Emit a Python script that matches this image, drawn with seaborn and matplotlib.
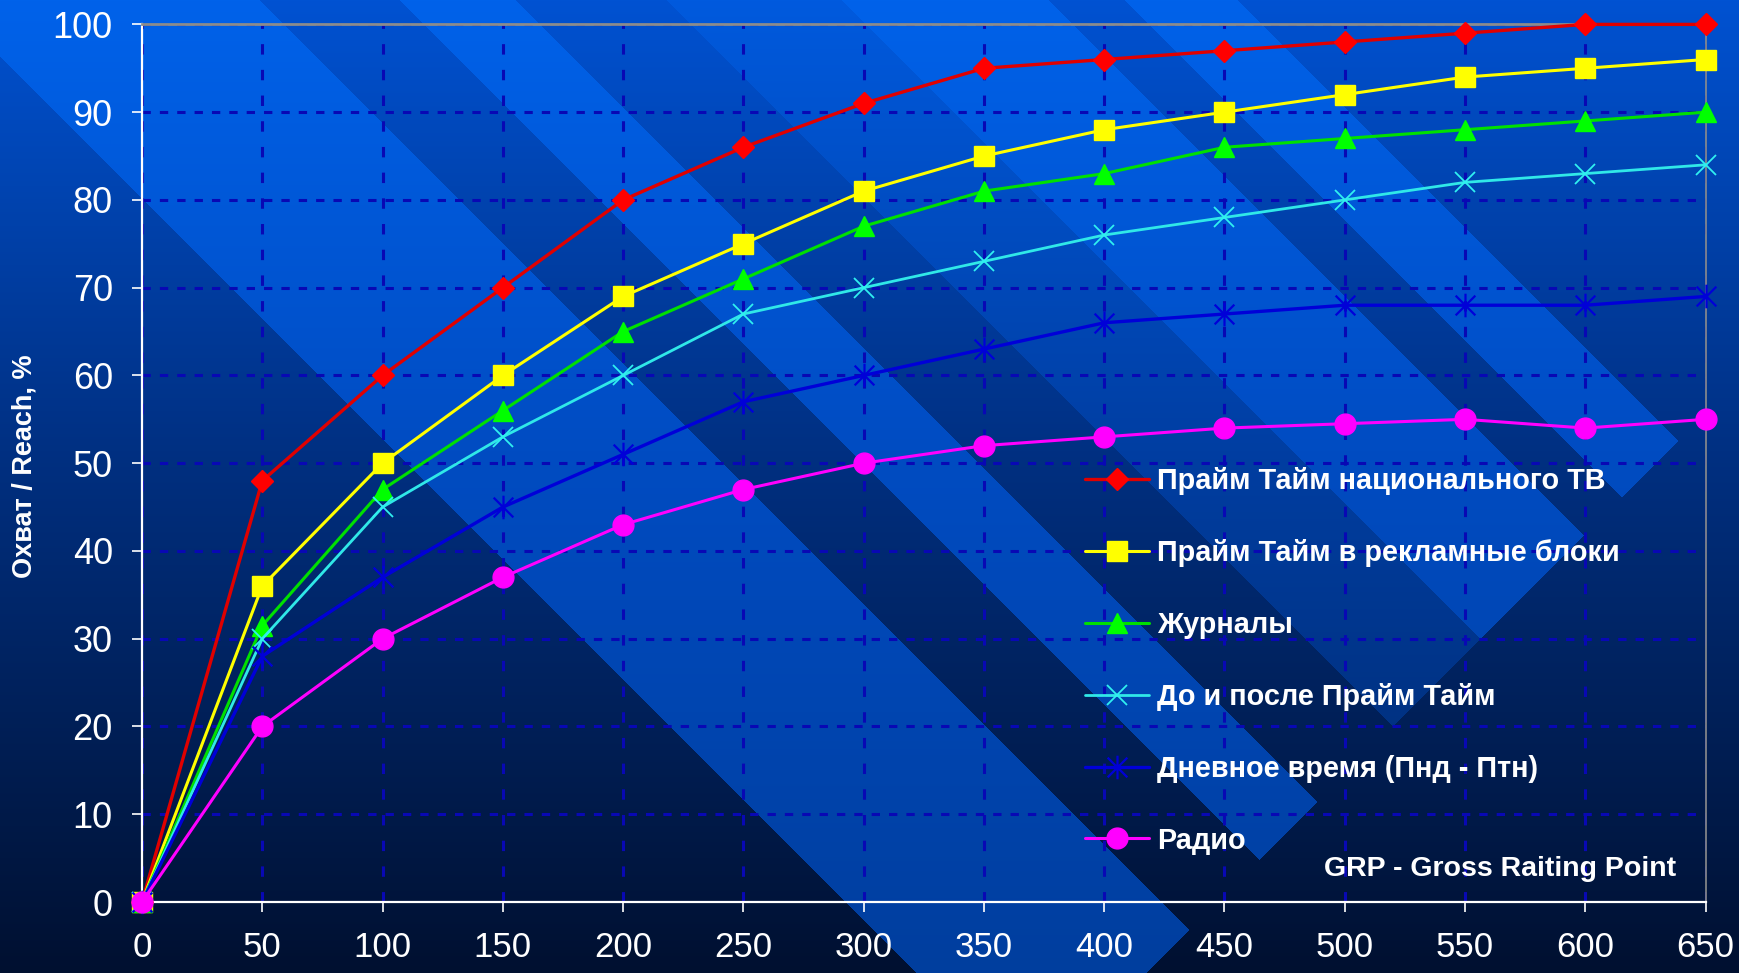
import numpy as np
import pandas as pd
import matplotlib
matplotlib.use("Agg")
import matplotlib.pyplot as plt
import seaborn as sns
from matplotlib.path import Path

# ---------------- data ----------------
grp = [0, 50, 100, 150, 200, 250, 300, 350, 400, 450, 500, 550, 600, 650]
prime_national_tv = [0, 48, 60, 70, 80, 86, 91, 95, 96, 97, 98, 99, 100, 100]
prime_ad_blocks = [0, 36, 50, 60, 69, 75, 81, 85, 88, 90, 92, 94, 95, 96]
magazines = [0, 31.5, 47, 56, 65, 71, 77, 81, 83, 86, 87, 88, 89, 90]
around_prime = [0, 30, 45, 53, 60, 67, 70, 73, 76, 78, 80, 82, 83, 84]
daytime = [0, 28, 37, 45, 51, 57, 60, 63, 66, 67, 68, 68, 68, 69]
radio = [0, 20, 30, 37, 43, 47, 50, 52, 53, 54, 54.5, 55, 54, 55]

series_labels = [
    "Прайм Тайм национального ТВ",
    "Прайм Тайм в рекламные блоки",
    "Журналы",
    "До и после Прайм Тайм",
    "Дневное время (Пнд - Птн)",
    "Радио",
]
x_ticks = list(range(0, 651, 50))
y_ticks = list(range(0, 101, 10))
y_label = "Охват / Reach, %"
note_text = "GRP - Gross Raiting Point"

# ---------------- style ----------------
sns.set_theme(style="white")
plt.rcParams["font.family"] = ["Liberation Sans", "DejaVu Sans"]
plt.rcParams["lines.scale_dashes"] = False

W, H = 1740, 973
fig = plt.figure(figsize=(W / 100, H / 100), dpi=100)

# background: vertical gradient with diagonal stripes (decoration)
def gradient(stops):
    ys = [s[0] for s in stops]
    cols = np.array([s[1] for s in stops], dtype=float) / 255.0
    rows = np.arange(H)
    return np.stack([np.interp(rows, ys, cols[:, k]) for k in range(3)], axis=1)

base = gradient([(0, (0x00, 0x52, 0xd2)), (450, (0x00, 0x30, 0x82)), (972, (0x00, 0x10, 0x30))])
bright = gradient([(0, (0x00, 0x62, 0xea)), (450, (0x00, 0x4c, 0xc2)), (972, (0x00, 0x3e, 0x9e))])
mid = (base + bright) / 2

yy, xx = np.mgrid[0:H, 0:W]
cc = xx - yy
dd = xx + yy
img = np.repeat(base[:, None, :], W, axis=1)
stripes = [(-56, 259, bright), (400, 515, bright), (667, 842, mid),
           (842, 1048, bright), (1125, 1237, bright)]
inside = dd <= 2118
for lo, hi, col in stripes:
    m = inside & (cc >= lo) & (cc <= hi)
    full = np.repeat(col[:, None, :], W, axis=1)
    img[m] = full[m]

bg = fig.add_axes([0, 0, 1, 1])
bg.imshow(img, aspect="auto", extent=(0, W, H, 0), interpolation="nearest")
bg.axis("off")

ax = fig.add_axes([142 / W, 1 - 902 / H, (1705.6 - 142) / W, (902 - 24.4) / H])
ax.set_facecolor("none")

star = Path([(-1, -1), (1, 1), (-1, 1), (1, -1), (0, -1.2), (0, 1.2)],
            [Path.MOVETO, Path.LINETO, Path.MOVETO, Path.LINETO, Path.MOVETO, Path.LINETO])

all_values = [prime_national_tv, prime_ad_blocks, magazines, around_prime, daytime, radio]
styles = [
    dict(color="#e00000", marker="D", markersize=11, markerfacecolor="#ff0000",
         markeredgecolor="#ff0000", markeredgewidth=1, linewidth=2.4),
    dict(color="#ffff00", marker="s", markersize=15, markerfacecolor="#ffff00",
         markeredgecolor="#ffff00", markeredgewidth=1, linewidth=2.2),
    dict(color="#00e000", marker="^", markersize=15, markerfacecolor="#00ff00",
         markeredgecolor="#00ff00", markeredgewidth=1, linewidth=2.2),
    dict(color="#30e8e8", marker="x", markersize=15, markerfacecolor="none",
         markeredgecolor="#30f0f0", markeredgewidth=1.3, linewidth=2.0),
    dict(color="#0000d8", marker=star, markersize=17, markerfacecolor="none",
         markeredgecolor="#0000d8", markeredgewidth=1.6, linewidth=2.4),
    dict(color="#ff00ff", marker="o", markersize=15, markerfacecolor="#ff00ff",
         markeredgecolor="#ff00ff", markeredgewidth=1, linewidth=2.2),
]

handles = []
for name, vals, st in zip(series_labels, all_values, styles):
    df = pd.DataFrame({"GRP": grp, "Reach": vals})
    sns.lineplot(data=df, x="GRP", y="Reach", ax=ax, label=name, legend=False,
                 clip_on=False, zorder=5, **st)
    handles.append(ax.get_lines()[-1])

ax.set_xlim(0, 650)
ax.set_ylim(0, 100)
ax.set_xticks(x_ticks)
ax.set_yticks(y_ticks)
ax.set_xlabel("")

grid_color = "#0808b4"
ax.set_axisbelow(True)
ax.xaxis.grid(True, color=grid_color, linewidth=2.2, linestyle=(0, (7.5, 11)))
ax.yaxis.grid(True, color=grid_color, linewidth=2.2, linestyle=(0, (6, 6.5)))

for side in ["left", "bottom"]:
    ax.spines[side].set_color("white")
    ax.spines[side].set_linewidth(1.6)
ax.spines["top"].set_color("#8c8c8c")
ax.spines["top"].set_linewidth(2.0)
ax.spines["right"].set_color("#8c8c8c")
ax.spines["right"].set_linewidth(1.2)
for s in ax.spines.values():
    s.set_zorder(3)

ax.tick_params(axis="both", which="major", bottom=True, left=True, colors="white",
               direction="out", length=7, width=1.2, labelsize=26)
ax.tick_params(axis="x", pad=14, labelsize=25)
ax.tick_params(axis="y", pad=14)

ax.set_ylabel(y_label, color="white", fontsize=19.5, fontweight="bold", va="center")
ax.yaxis.set_label_coords((24 - 142) / 1563.6, (902 - 466) / 877.6)

leg = ax.legend(handles, series_labels, loc="upper left",
                bbox_to_anchor=(1085 / W, 1 - 467 / H), bbox_transform=fig.transFigure,
                frameon=False, prop={"family": ["Liberation Sans", "DejaVu Sans"], "weight": "bold", "size": 20.8},
                labelcolor="white", handlelength=2.2, handletextpad=0.3,
                labelspacing=1.52, borderpad=0, borderaxespad=0, numpoints=1)
leg.set_zorder(6)

fig.text(1676 / W, 1 - 876 / H, note_text, ha="right", va="baseline",
         color="white", fontsize=20.5, fontweight="bold")

fig.savefig("out.png", dpi=100)
